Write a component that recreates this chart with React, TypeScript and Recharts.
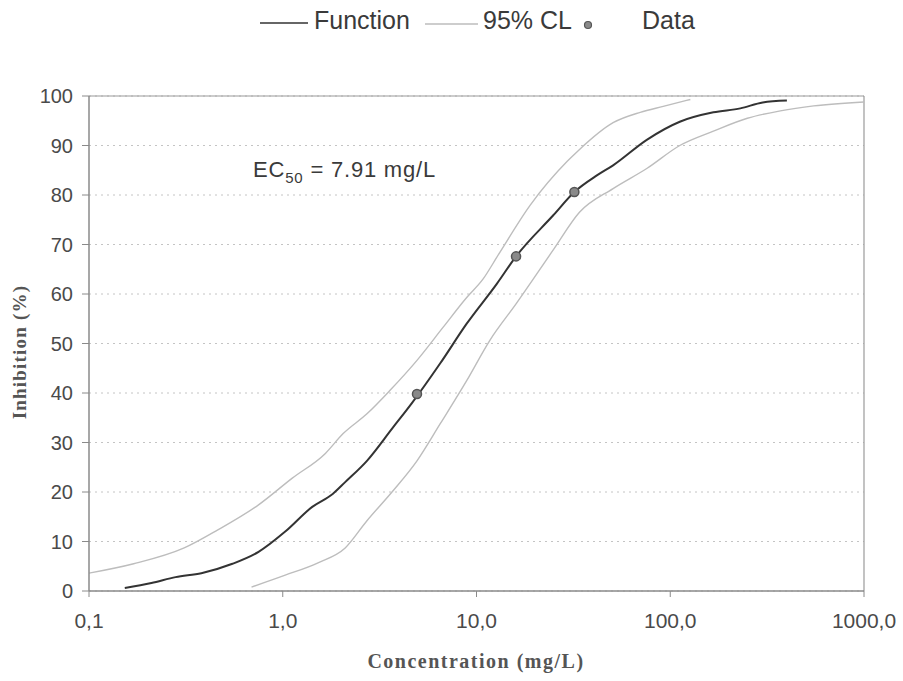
import React from "react"
import {
  ComposedChart,
  Line,
  Scatter,
  XAxis,
  YAxis,
  CartesianGrid,
  ReferenceLine,
  Legend,
  Label,
  Customized,
} from "recharts"

// fitted dose-response curve
const fnConc = [0.153, 0.21, 0.28, 0.38, 0.55, 0.75, 1.03, 1.42, 1.81, 2.1, 2.72, 3.7, 4.63, 6.5, 8.9, 12.7, 16, 24.9, 32, 42, 50.7, 76, 112, 167, 230, 300, 400]
const fnInhib = [0.6, 1.6, 2.8, 3.6, 5.5, 7.9, 12, 17, 19.6, 22, 26.3, 33, 37.9, 46, 54, 62, 67.6, 75.9, 80.6, 84, 86, 91.2, 94.8, 96.7, 97.5, 98.7, 99.1]

// 95% confidence limits
const upperConc = [0.1, 0.17, 0.31, 0.46, 0.75, 1.12, 1.66, 2.05, 2.72, 3.57, 4.93, 6.7, 8.9, 10.8, 13, 18.9, 29.4, 33.6, 50.7, 70, 92, 127]
const upperInhib = [3.6, 5.5, 8.7, 12.3, 17.4, 22.8, 27.8, 31.8, 35.8, 40.5, 46.6, 53.2, 59.3, 63, 68, 77.9, 86.8, 89, 94.6, 96.7, 97.9, 99.3]
const lowerConc = [0.69, 1.03, 1.52, 2.1, 2.72, 3.7, 4.93, 6.5, 8.9, 11.7, 16, 25, 34, 50.7, 76, 112, 167, 250, 370, 550, 1000]
const lowerInhib = [0.8, 3.2, 5.7, 8.7, 14.2, 20.2, 26.3, 33.8, 42.5, 50.6, 58, 69, 76.5, 81.3, 85.4, 90, 92.9, 95.5, 97, 98, 98.8]

// measured points
const dataConc = [4.93, 16, 32]
const dataInhib = [39.8, 67.6, 80.6]

const xTicks = [0.1, 1, 10, 100, 1000]
const xTickLabels = ["0,1", "1,0", "10,0", "100,0", "1000,0"]
const yTicks = [0, 10, 20, 30, 40, 50, 60, 70, 80, 90, 100]

const pairs = (xs: number[], ys: number[]) => xs.map((x, i) => ({ x, y: ys[i] }))

const fnData = pairs(fnConc, fnInhib)
const upperData = pairs(upperConc, upperInhib)
const lowerData = pairs(lowerConc, lowerInhib)
const pointData = pairs(dataConc, dataInhib)

const sans = "'Liberation Sans', Arial, sans-serif"
const serif = "'Liberation Serif', 'Times New Roman', serif"
const clColor = "#bdbdbd"
const fnColor = "#333333"

function LegendBox() {
  return (
    <svg width={903} height={40} style={{ display: "block" }}>
      <line x1={260} y1={23} x2={308} y2={23} stroke={fnColor} strokeWidth={1.5} />
      <text x={314} y={29} fontSize={25} fill="#3a3a3a" fontFamily={sans}>Function</text>
      <line x1={425} y1={24} x2={478} y2={24} stroke={clColor} strokeWidth={1.3} />
      <text x={483} y={29} fontSize={25} fill="#3a3a3a" fontFamily={sans}>95% CL</text>
      <circle cx={588} cy={25} r={3.5} fill="#8a8a8a" stroke="#555" strokeWidth={1.2} />
      <text x={642} y={29} fontSize={25} fill="#3a3a3a" fontFamily={sans}>Data</text>
    </svg>
  )
}

function Ec50Note() {
  return (
    <text x={253} y={177} fontSize={22} fill="#3a3a3a" fontFamily={sans} letterSpacing={0.8}>
      EC
      <tspan fontSize={15} dy={6}>50</tspan>
      <tspan dy={-6}> = 7.91 mg/L</tspan>
    </text>
  )
}

export default function App() {
  return (
    <div style={{ position: "absolute", left: 0, top: 0, width: 903, height: 681, background: "#fff" }}>
      {/* legend box height (40) is added to the top margin by recharts */}
      <ComposedChart width={903} height={681} margin={{ top: 56, right: 39, bottom: 0, left: 0 }}>
        <CartesianGrid vertical={false} stroke="#c4c4c4" strokeDasharray="2 4" />
        <XAxis
          type="number"
          dataKey="x"
          scale="log"
          domain={[0.1, 1000]}
          ticks={xTicks}
          allowDataOverflow
          height={90}
          tickSize={6}
          tickMargin={16}
          tickFormatter={(v: number) => xTickLabels[xTicks.indexOf(v)] ?? String(v)}
          tick={{ fill: "#4a4a4a", fontSize: 21, fontFamily: sans }}
          axisLine={{ stroke: "#8a8a8a", strokeWidth: 1.5 }}
          tickLine={{ stroke: "#8a8a8a" }}
        >
          <Label
            content={() => (
              <text x={476} y={668} textAnchor="middle" fontSize={20} fontWeight="bold" fill="#555" fontFamily={serif} letterSpacing={1.5}>
                Concentration (mg/L)
              </text>
            )}
          />
        </XAxis>
        <YAxis
          type="number"
          dataKey="y"
          domain={[0, 100]}
          ticks={yTicks}
          width={89}
          tickSize={7}
          tickMargin={9}
          tick={{ fill: "#4a4a4a", fontSize: 20, fontFamily: sans }}
          axisLine={{ stroke: "#8a8a8a", strokeWidth: 1.5 }}
          tickLine={{ stroke: "#8a8a8a" }}
        >
          <Label
            content={() => (
              <text
                x={19}
                y={352}
                transform="rotate(-90 19 352)"
                textAnchor="middle"
                dominantBaseline="central"
                fontSize={19}
                fontWeight="bold"
                fill="#555"
                fontFamily={serif}
                letterSpacing={1.2}
              >
                Inhibition (%)
              </text>
            )}
          />
        </YAxis>
        <ReferenceLine y={100} stroke="#9a9a9a" strokeWidth={1.2} />
        <ReferenceLine x={1000} stroke="#9a9a9a" strokeWidth={1.2} />
        <Legend
          verticalAlign="top"
          content={() => <LegendBox />}
          wrapperStyle={{ position: "absolute", top: 0, left: 0, width: 903, height: 40 }}
        />
        <Line data={upperData} dataKey="y" name="95% CL" type="monotone" stroke={clColor} strokeWidth={1.4} dot={false} isAnimationActive={false} />
        <Line data={lowerData} dataKey="y" name="95% CL lower" type="monotone" stroke={clColor} strokeWidth={1.4} dot={false} isAnimationActive={false} legendType="none" />
        <Line data={fnData} dataKey="y" name="Function" type="monotone" stroke={fnColor} strokeWidth={2} dot={false} isAnimationActive={false} />
        <Scatter data={pointData} dataKey="y" name="Data" fill="#8a8a8a" stroke="#555" strokeWidth={1.5} shape="circle" isAnimationActive={false} />
        <Customized component={<Ec50Note />} />
      </ComposedChart>
    </div>
  )
}
